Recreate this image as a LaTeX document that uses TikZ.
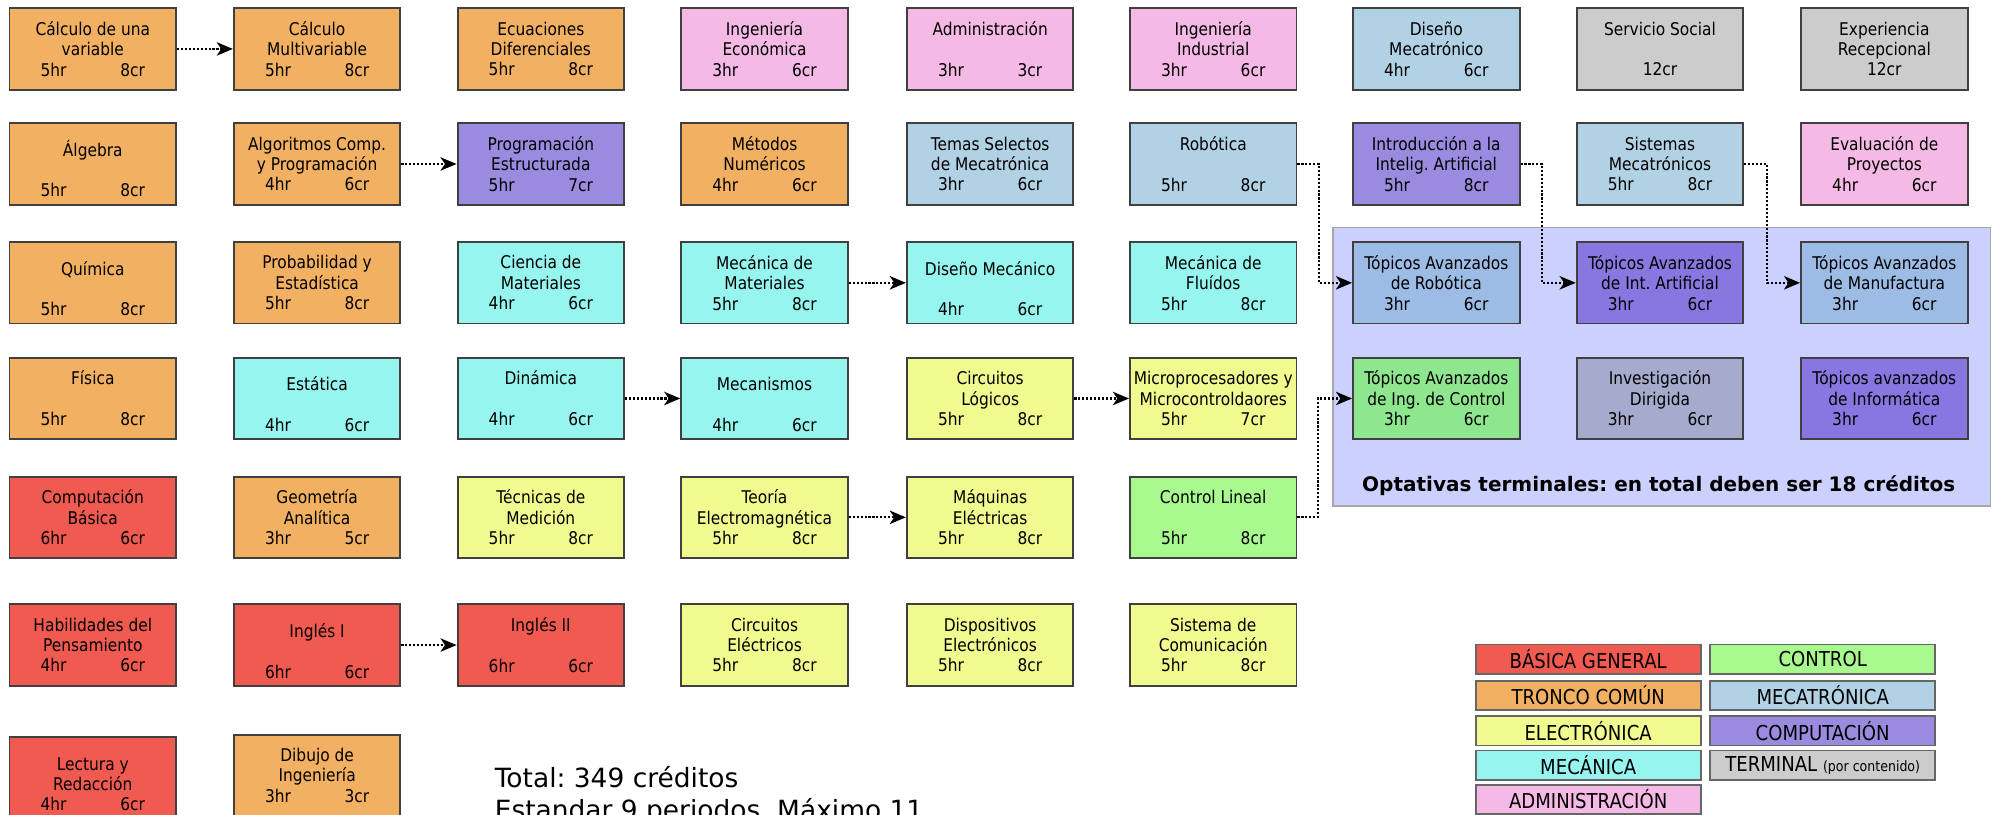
\documentclass[tikz,border=0pt]{standalone}
\usepackage{fontspec}
\setmainfont{DejaVu Sans}
\newfontfamily\cfont[FakeStretch=0.88]{DejaVu Sans}
\frenchspacing
\usepackage{tikz}
\definecolor{basica}{HTML}{F15A50}
\definecolor{tronco}{HTML}{F2B062}
\definecolor{electro}{HTML}{F0FA8E}
\definecolor{mecanica}{HTML}{96F5EF}
\definecolor{admon}{HTML}{F4B9E5}
\definecolor{control}{HTML}{A8FA8E}
\definecolor{mecatro}{HTML}{B1D1E5}
\definecolor{compu}{HTML}{9A8BE0}
\definecolor{terminal}{HTML}{CCCCCC}
\definecolor{optpanel}{HTML}{CCD0FE}
\definecolor{topmeca}{HTML}{9CBBE5}
\definecolor{topcompu}{HTML}{8877E0}
\definecolor{topcontrol}{HTML}{8EE68E}
\definecolor{investig}{HTML}{A6AACC}
\usetikzlibrary{arrows, arrows.meta, shapes}
\tikzstyle{arrow} = [line width=1.2pt,densely dotted,->,>={Stealth[length=9pt,width=7.5pt,inset=2.5pt]}]
\newcommand{\hc}[2]{\makebox[2.05cm]{#1hr\hfill #2cr}}

\begin{document}
\begin{tikzpicture}[x=0.025cm, y=-0.025cm]
                    \tikzstyle{every node}=[font=\cfont\fontsize{9.8}{11.4}\selectfont] \tikzstyle{course} =
                    [rectangle, draw=black!75, line width=1.1pt, minimum width=3.275cm, minimum height=1.6cm, align=center, inner sep=1pt] \tikzstyle{lower} =
                    [course, text height=37pt] \tikzstyle{legend} =
                    [rectangle, draw=black!60, line width=1pt, minimum width=4.425cm, minimum height=0.575cm, inner sep=0pt, font=\cfont\fontsize{11.5}{12}\selectfont]

                    \useasboundingbox (0,0) rectangle (1568,641);

                    % optativas terminales
                    \node[rectangle, draw=black!35, line width=1pt, fill=optpanel, minimum width=12.925cm, minimum height=5.475cm] (optativas) at (1307.5,288.5) {};
                    \node[font=\bfseries\fontsize{11.2}{13}\selectfont] (optlabel) at (1305,382) {Optativas terminales: en total deben ser 18 créditos};

                    % fila 1
                    \node[course, fill=tronco](calcuno) at (73,38.5) {Cálculo de una\\variable\\\hc{5}{8}};
                    \node[course, fill=tronco](calcmulti) at (249.5,38.5) {Cálculo\\Multivariable\\\hc{5}{8}};
                    \node[course, fill=tronco](ecdif) at (425.5,38.5) {Ecuaciones\\Diferenciales\\\hc{5}{8}};
                    \node[course, fill=admon](ingecon) at (601.5,38.5) {Ingeniería\\Económica\\\hc{3}{6}};
                    \node[course, fill=admon](administ) at (779,38.5) {Administración\\~\\\hc{3}{3}};
                    \node[course, fill=admon](ingind) at (954.5,38.5) {Ingeniería\\Industrial\\\hc{3}{6}};
                    \node[course, fill=mecatro](disemeca) at (1130,38.5) {Diseño\\Mecatrónico\\\hc{4}{6}};
                    \node[course, fill=terminal](servsoc) at (1306,38.5) {Servicio Social\\~\\12cr};
                    \node[course, fill=terminal](exprec) at (1482.5,38.5) {Experiencia\\Recepcional\\12cr};

                    % fila 2
                    \node[lower, fill=tronco](algebra) at (73,129) {Álgebra\\~\\\hc{5}{8}};
                    \node[course, fill=tronco](algoritmos) at (249.5,129) {Algoritmos Comp.\\y Programación\\\hc{4}{6}};
                    \node[course, fill=compu](progest) at (425.5,129) {Programación\\Estructurada\\\hc{5}{7}};
                    \node[course, fill=tronco](metnum) at (601.5,129) {Métodos\\Numéricos\\\hc{4}{6}};
                    \node[course, fill=mecatro](temasel) at (779,129) {Temas Selectos\\de Mecatrónica\\\hc{3}{6}};
                    \node[course, fill=mecatro](robotica) at (954.5,129) {Robótica\\~\\\hc{5}{8}};
                    \node[course, fill=compu](introia) at (1130,129) {Introducción a la\\Intelig. Artificial\\\hc{5}{8}};
                    \node[course, fill=mecatro](sistmeca) at (1306,129) {Sistemas\\Mecatrónicos\\\hc{5}{8}};
                    \node[course, fill=admon](evalproy) at (1482.5,129) {Evaluación de\\Proyectos\\\hc{4}{6}};

                    % fila 3
                    \node[lower, fill=tronco](quimica) at (73,222.5) {Química\\~\\\hc{5}{8}};
                    \node[course, fill=tronco](probest) at (249.5,222.5) {Probabilidad y\\Estadística\\\hc{5}{8}};
                    \node[course, fill=mecanica](cienmat) at (425.5,222.5) {Ciencia de\\Materiales\\\hc{4}{6}};
                    \node[course, fill=mecanica](mecmat) at (601.5,222.5) {Mecánica de\\Materiales\\\hc{5}{8}};
                    \node[lower, fill=mecanica](disemec) at (779,222.5) {Diseño Mecánico\\~\\\hc{4}{6}};
                    \node[course, fill=mecanica](mecflu) at (954.5,222.5) {Mecánica de\\Fluídos\\\hc{5}{8}};
                    \node[course, fill=topmeca](toprob) at (1130,222.5) {Tópicos Avanzados\\de Robótica\\\hc{3}{6}};
                    \node[course, fill=topcompu](topia) at (1306,222.5) {Tópicos Avanzados\\de Int. Artificial\\\hc{3}{6}};
                    \node[course, fill=topmeca](topmanu) at (1482.5,222.5) {Tópicos Avanzados\\de Manufactura\\\hc{3}{6}};

                    % fila 4
                    \node[course, fill=tronco](fisica) at (73,313.5) {Física\\~\\\hc{5}{8}};
                    \node[lower, fill=mecanica](estatica) at (249.5,313.5) {Estática\\~\\\hc{4}{6}};
                    \node[course, fill=mecanica](dinamica) at (425.5,313.5) {Dinámica\\~\\\hc{4}{6}};
                    \node[lower, fill=mecanica](mecanismos) at (601.5,313.5) {Mecanismos\\~\\\hc{4}{6}};
                    \node[course, fill=electro](circlog) at (779,313.5) {Circuitos\\Lógicos\\\hc{5}{8}};
                    \node[course, fill=electro](micro) at (954.5,313.5) {Microprocesadores y\\Microcontroldaores\\\hc{5}{7}};
                    \node[course, fill=topcontrol](topcontrol) at (1130,313.5) {Tópicos Avanzados\\de Ing. de Control\\\hc{3}{6}};
                    \node[course, fill=investig](investig) at (1306,313.5) {Investigación\\Dirigida\\\hc{3}{6}};
                    \node[course, fill=topcompu](topinfo) at (1482.5,313.5) {Tópicos avanzados\\de Informática\\\hc{3}{6}};

                    % fila 5
                    \node[course, fill=basica](compbas) at (73,407) {Computación\\Básica\\\hc{6}{6}};
                    \node[course, fill=tronco](geoan) at (249.5,407) {Geometría\\Analítica\\\hc{3}{5}};
                    \node[course, fill=electro](tecmed) at (425.5,407) {Técnicas de\\Medición\\\hc{5}{8}};
                    \node[course, fill=electro](teoelec) at (601.5,407) {Teoría\\Electromagnética\\\hc{5}{8}};
                    \node[course, fill=electro](maqelec) at (779,407) {Máquinas\\Eléctricas\\\hc{5}{8}};
                    \node[course, fill=control](contlin) at (954.5,407) {Control Lineal\\~\\\hc{5}{8}};

                    % fila 6
                    \node[course, fill=basica](habpen) at (73,507.5) {Habilidades del\\Pensamiento\\\hc{4}{6}};
                    \node[lower, fill=basica](ingles1) at (249.5,507.5) {Inglés I\\~\\\hc{6}{6}};
                    \node[course, fill=basica](ingles2) at (425.5,507.5) {Inglés II\\~\\\hc{6}{6}};
                    \node[course, fill=electro](circelec) at (601.5,507.5) {Circuitos\\Eléctricos\\\hc{5}{8}};
                    \node[course, fill=electro](dispelec) at (779,507.5) {Dispositivos\\Electrónicos\\\hc{5}{8}};
                    \node[course, fill=electro](sistcom) at (954.5,507.5) {Sistema de\\Comunicación\\\hc{5}{8}};

                    % fila 7
                    \node[lower, fill=basica](lectura) at (73,612) {Lectura y\\Redacción\\\hc{4}{6}};
                    \node[course, fill=tronco](dibujo) at (249.5,610) {Dibujo de\\Ingeniería\\\hc{3}{3}};

                    \node[anchor=north west, align=left, inner sep=0pt, font=\fontsize{14.8}{17.8}\selectfont](totales) at (389,603) {Total: 349 créditos\\Estandar 9 periodos, Máximo 11};

                    % seriaciones
                    \draw[arrow] (calcuno) -- (calcmulti);
                    \draw[arrow] (algoritmos) -- (progest);
                    \draw[arrow] (mecmat) -- (disemec);
                    \draw[arrow] (dinamica) -- (mecanismos);
                    \draw[arrow] (circlog) -- (micro);
                    \draw[arrow] (teoelec) -- (maqelec);
                    \draw[arrow] (ingles1) -- (ingles2);
                    \draw[arrow] (robotica.east) -- ++(17,0) |- (toprob.west);
                    \draw[arrow] (introia.east) -- ++(17,0) |- (topia.west);
                    \draw[arrow] (sistmeca.east) -- ++(18,0) |- (topmanu.west);
                    \draw[arrow] (contlin.east) -- ++(16,0) |- (topcontrol.west);

                    % leyenda
                    \node[legend, fill=basica](legbas) at (1249.5,518.5) {BÁSICA GENERAL};
                    \node[legend, fill=tronco](legtron) at (1249.5,547) {TRONCO COMÚN};
                    \node[legend, fill=electro](legelec) at (1249.5,575) {ELECTRÓNICA};
                    \node[legend, fill=mecanica](legmec) at (1249.5,602) {MECÁNICA};
                    \node[legend, fill=admon](legadm) at (1249.5,629) {ADMINISTRACIÓN};
                    \node[legend, fill=control](legcon) at (1434,518.5) {CONTROL};
                    \node[legend, fill=mecatro](legmeca) at (1434,547) {MECATRÓNICA};
                    \node[legend, fill=compu](legcomp) at (1434,575) {COMPUTACIÓN};
                    \node[legend, fill=terminal](legterm) at (1434,602) {TERMINAL {\fontsize{8}{9}\selectfont (por contenido)}};

            \end{tikzpicture}
\end{document}
